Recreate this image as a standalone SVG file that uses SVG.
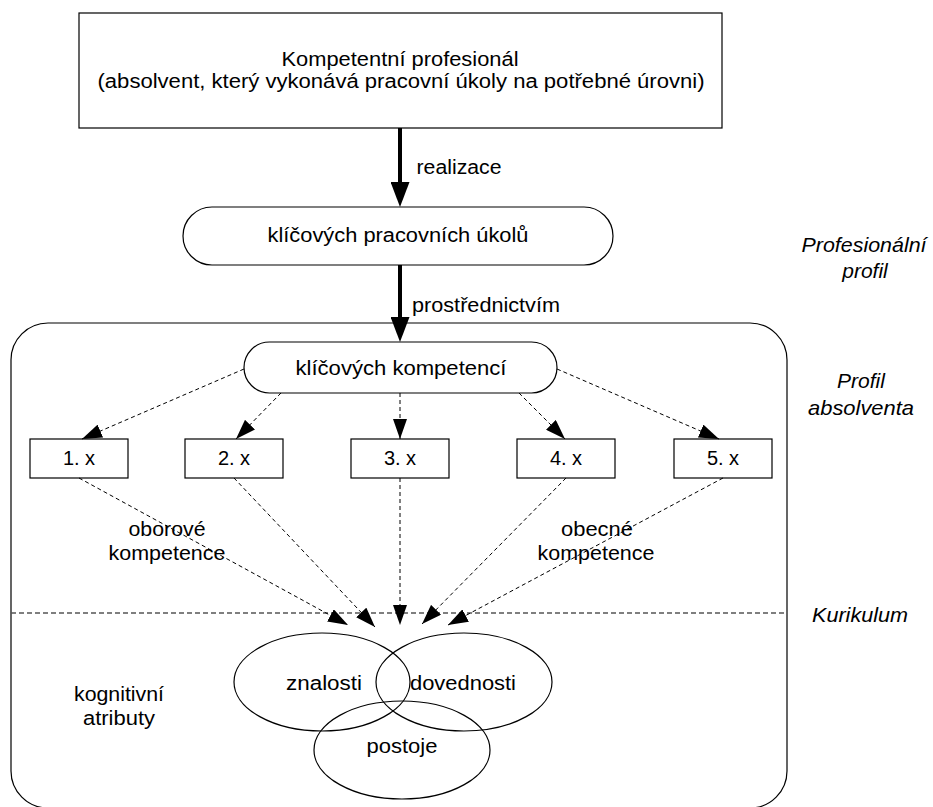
<svg xmlns="http://www.w3.org/2000/svg" width="933" height="807" viewBox="0 0 933 807">
  <style>
    .box { fill: #ffffff; stroke: #000000; stroke-width: 1.2; }
    .ring { fill: none; stroke: #000000; stroke-width: 1.2; }
    .t { font-family: "Liberation Sans", Arial, sans-serif; font-size: 20px; fill: #000000; text-anchor: middle; }
    .it { font-style: italic; font-size: 21px; }
    .thick { stroke: #000000; stroke-width: 4; fill: none; }
    .dash { stroke: #000000; stroke-width: 1; stroke-dasharray: 4 3; fill: none; }
    .sep { stroke: #555555; stroke-width: 1.5; stroke-dasharray: 5 3; fill: none; }
  </style>
  <defs>
    <marker id="bigHead" markerUnits="userSpaceOnUse" markerWidth="26" markerHeight="19" refX="0" refY="9.5" orient="auto">
      <path d="M0,0 L25,9.5 L0,19 z" fill="#000000"/>
    </marker>
    <marker id="smallHead" markerUnits="userSpaceOnUse" markerWidth="21" markerHeight="14" refX="20" refY="7" orient="auto">
      <path d="M0,0 L20,7 L0,14 z" fill="#000000"/>
    </marker>
  </defs>

  <!-- outer frame: graduate profile and curriculum -->
  <g id="frame">
    <rect class="box" x="11" y="323" width="776" height="485" rx="37" ry="37"/>
    <line class="sep" x1="11" y1="613" x2="787" y2="613"/>
  </g>

  <!-- side captions -->
  <g id="captions">
    <text class="t it" x="864" y="252" textLength="125" lengthAdjust="spacingAndGlyphs">Profesionální</text>
    <text class="t it" x="865" y="278">profil</text>
    <text class="t it" x="861" y="388">Profil</text>
    <text class="t it" x="861" y="415" textLength="106" lengthAdjust="spacingAndGlyphs">absolventa</text>
    <text class="t it" x="860" y="622" textLength="96" lengthAdjust="spacingAndGlyphs">Kurikulum</text>
  </g>

  <g id="professional">
    <rect class="box" x="79" y="13" width="643" height="115"/>
    <text class="t" x="400" y="66" font-size="18" textLength="237" lengthAdjust="spacingAndGlyphs">Kompetentní profesionál</text>
    <text class="t" x="401" y="88" font-size="18" textLength="607" lengthAdjust="spacingAndGlyphs">(absolvent, který vykonává pracovní úkoly na potřebné úrovni)</text>
  </g>

  <g id="work-tasks">
    <rect class="box" x="183" y="207" width="430" height="58" rx="29" ry="29"/>
    <text class="t" x="398" y="242" font-size="21" textLength="261" lengthAdjust="spacingAndGlyphs">klíčových pracovních úkolů</text>
  </g>

  <g id="key-competences">
    <rect class="box" x="244" y="342" width="313" height="51" rx="25.5" ry="25.5"/>
    <text class="t" x="401" y="375" font-size="21" textLength="211" lengthAdjust="spacingAndGlyphs">klíčových kompetencí</text>
  </g>

  <g id="item-1">
    <rect class="box" x="30" y="439" width="98" height="39"/>
    <text class="t" x="79" y="465">1. x</text>
  </g>
  <g id="item-2">
    <rect class="box" x="185" y="439" width="98" height="39"/>
    <text class="t" x="234" y="465">2. x</text>
  </g>
  <g id="item-3">
    <rect class="box" x="351" y="439" width="98" height="39"/>
    <text class="t" x="400" y="465">3. x</text>
  </g>
  <g id="item-4">
    <rect class="box" x="517" y="439" width="98" height="39"/>
    <text class="t" x="566" y="465">4. x</text>
  </g>
  <g id="item-5">
    <rect class="box" x="674" y="439" width="98" height="39"/>
    <text class="t" x="723" y="465">5. x</text>
  </g>

  <!-- cognitive attributes -->
  <g id="knowledge">
    <ellipse class="ring" cx="322" cy="682" rx="88" ry="49"/>
    <text class="t" x="324" y="690" textLength="76" lengthAdjust="spacingAndGlyphs">znalosti</text>
  </g>
  <g id="skills">
    <ellipse class="ring" cx="464" cy="682" rx="88" ry="49"/>
    <text class="t" x="463" y="690" textLength="106" lengthAdjust="spacingAndGlyphs">dovednosti</text>
  </g>
  <g id="attitudes">
    <ellipse class="ring" cx="402" cy="750" rx="88" ry="49"/>
    <text class="t" x="402" y="753" textLength="71" lengthAdjust="spacingAndGlyphs">postoje</text>
  </g>
  <g id="cognitive-label">
    <text class="t" x="119" y="701" textLength="90" lengthAdjust="spacingAndGlyphs">kognitivní</text>
    <text class="t" x="119" y="725" textLength="72" lengthAdjust="spacingAndGlyphs">atributy</text>
  </g>

  <g id="connectors">
    <line class="thick" x1="400" y1="128" x2="400" y2="182" marker-end="url(#bigHead)"/>
    <line class="thick" x1="400" y1="265" x2="400" y2="317" marker-end="url(#bigHead)"/>

    <line class="dash" x1="244" y1="369" x2="82" y2="439" marker-end="url(#smallHead)"/>
    <line class="dash" x1="281" y1="393" x2="236" y2="439" marker-end="url(#smallHead)"/>
    <line class="dash" x1="400" y1="393" x2="400" y2="439" marker-end="url(#smallHead)"/>
    <line class="dash" x1="519" y1="393" x2="565" y2="439" marker-end="url(#smallHead)"/>
    <line class="dash" x1="557" y1="369" x2="719" y2="439" marker-end="url(#smallHead)"/>

    <line class="dash" x1="79" y1="478" x2="348" y2="625" marker-end="url(#smallHead)"/>
    <line class="dash" x1="234" y1="478" x2="375" y2="627" marker-end="url(#smallHead)"/>
    <line class="dash" x1="400" y1="478" x2="400" y2="625" marker-end="url(#smallHead)"/>
    <line class="dash" x1="566" y1="478" x2="422" y2="624" marker-end="url(#smallHead)"/>
    <line class="dash" x1="723" y1="478" x2="448" y2="625" marker-end="url(#smallHead)"/>
  </g>

  <!-- connector labels -->
  <g id="connector-labels">
    <text class="t" x="459" y="174" textLength="85" lengthAdjust="spacingAndGlyphs">realizace</text>
    <text class="t" x="486" y="312" textLength="148" lengthAdjust="spacingAndGlyphs">prostřednictvím</text>
    <text class="t" x="167" y="536" textLength="77" lengthAdjust="spacingAndGlyphs">oborové</text>
    <text class="t" x="167" y="560" textLength="117" lengthAdjust="spacingAndGlyphs">kompetence</text>
    <text class="t" x="597" y="536" textLength="72" lengthAdjust="spacingAndGlyphs">obecné</text>
    <text class="t" x="596" y="560" textLength="117" lengthAdjust="spacingAndGlyphs">kompetence</text>
  </g>
</svg>
